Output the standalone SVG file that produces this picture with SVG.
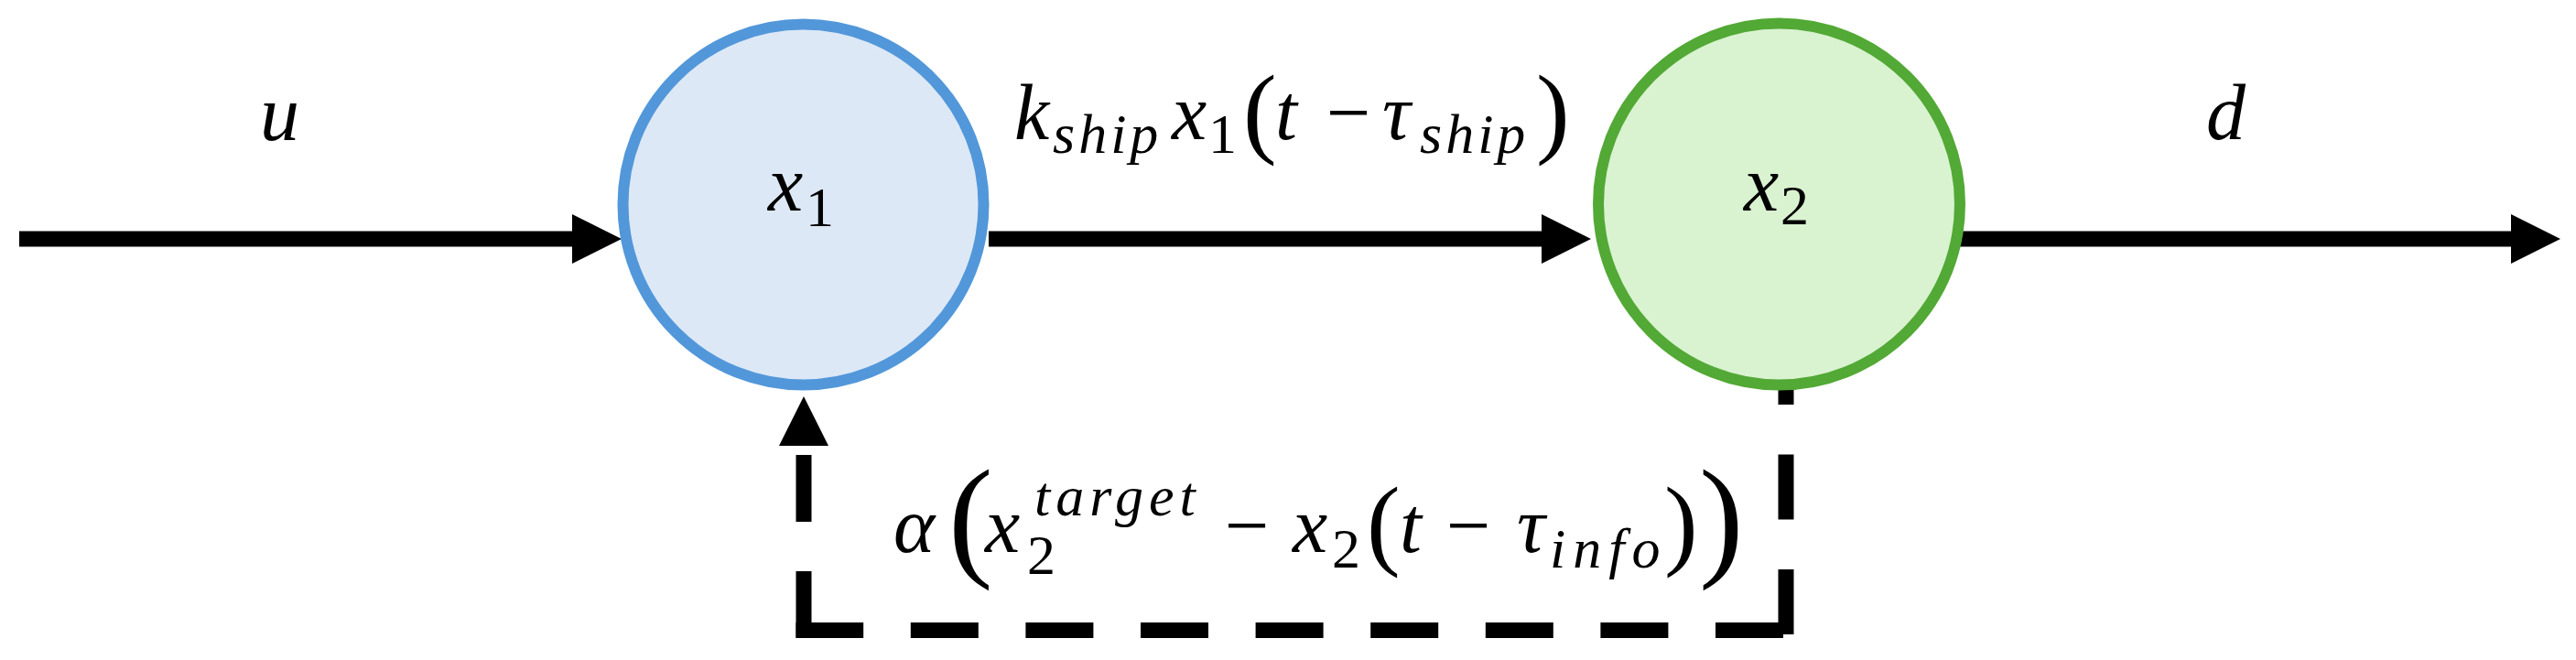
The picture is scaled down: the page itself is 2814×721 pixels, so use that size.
<svg xmlns="http://www.w3.org/2000/svg" width="2814" height="721" viewBox="0 0 2814 721">
<style>
.ln{fill:none;stroke:#000;stroke-width:17;stroke-linecap:butt}
.m{font-family:"Liberation Serif","Times New Roman",serif;font-style:italic;font-size:86px;fill:#000}
.s{font-size:62px}
.up{font-style:normal}
.p{font-style:normal;font-size:110px}
.pb{font-style:normal;font-size:146px}
</style>
<defs>
<marker id="ah" viewBox="0 0 54 54" refX="0" refY="27" markerWidth="54" markerHeight="54" markerUnits="userSpaceOnUse" orient="auto">
<path d="M0,0 L54,27 L0,54 z" fill="#000"/>
</marker>
</defs>
<rect width="2814" height="721" fill="#fff"/>
<g id="connectors">
<path id="e-u" class="ln" d="M21,261 H625" marker-end="url(#ah)"/>
<path id="e-ship" class="ln" d="M1080,261 H1684" marker-end="url(#ah)"/>
<path id="e-d" class="ln" d="M2141,261 H2743" marker-end="url(#ah)"/>
<g id="e-fb">
<path class="ln" d="M1951,371 V693" stroke-dasharray="71 54.5"/>
<path class="ln" d="M1948,688.5 H869.5" stroke-dasharray="74 51.6"/>
<path class="ln" d="M878,697 V487" stroke-dasharray="73 54" marker-end="url(#ah)"/>
</g>
</g>
<g id="node-x1">
<circle cx="877.5" cy="223.5" r="197" fill="#DCE8F6" stroke="#5297D9" stroke-width="12"/>
<text class="m" x="839" y="230">x<tspan class="s up" x="880" y="247">1</tspan></text>
</g>
<g id="node-x2">
<circle cx="1943.5" cy="223" r="197.5" fill="#D9F2D0" stroke="#52A935" stroke-width="12"/>
<text class="m" x="1905" y="230">x<tspan class="s up" x="1945" y="245">2</tspan></text>
</g>
<g id="labels">
<text id="lbl-u" class="m" x="284" y="153">u</text>
<text id="lbl-d" class="m" x="2410" y="152">d</text>
<text id="lbl-ship" class="m" x="1108" y="152">k<tspan class="s" x="1150" y="167" letter-spacing="4">ship</tspan><tspan x="1280" y="152">x</tspan><tspan class="s up" x="1320" y="167">1</tspan><tspan class="p" x="1358" y="158">(</tspan><tspan x="1393" y="152">t</tspan><tspan class="up" x="1449" y="152">−</tspan><tspan x="1510" y="152">τ</tspan><tspan class="s" x="1551" y="167" letter-spacing="4">ship</tspan><tspan class="p" x="1678" y="158">)</tspan></text>
<text id="lbl-fb" class="m" x="976" y="603">α<tspan class="pb" x="1036" y="614">(</tspan><tspan x="1076" y="603">x</tspan><tspan class="s up" x="1122" y="627">2</tspan><tspan class="s" x="1130" y="563" letter-spacing="6">target</tspan><tspan class="up" x="1338" y="603">−</tspan><tspan x="1412" y="603">x</tspan><tspan class="s up" x="1455" y="620">2</tspan><tspan class="p" x="1493" y="608">(</tspan><tspan x="1529" y="603">t</tspan><tspan class="up" x="1580" y="603">−</tspan><tspan x="1657" y="603">τ</tspan><tspan class="s" x="1693" y="620" letter-spacing="8">info</tspan><tspan class="p" x="1818" y="608">)</tspan><tspan class="pb" x="1856" y="614">)</tspan></text>
</g>
</svg>
